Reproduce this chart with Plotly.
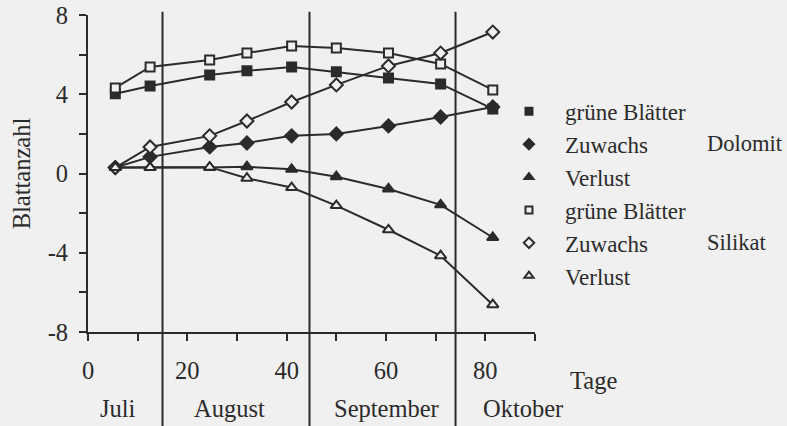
import plotly.graph_objects as go

# ---- data ----
days = [5.5, 12.5, 24.5, 32, 41, 50, 60.5, 71, 81.5]

dolomit_gruen = [4.02, 4.42, 4.97, 5.18, 5.38, 5.13, 4.82, 4.52, 3.26]
dolomit_zuwachs = [0.3, 0.84, 1.34, 1.54, 1.9, 2.0, 2.4, 2.85, 3.36]
dolomit_verlust = [0.3, 0.3, 0.3, 0.34, 0.21, -0.16, -0.78, -1.58, -3.23]

silikat_gruen = [4.32, 5.38, 5.73, 6.08, 6.44, 6.34, 6.08, 5.53, 4.22]
silikat_zuwachs = [0.3, 1.34, 1.9, 2.65, 3.61, 4.47, 5.43, 6.08, 7.14]
silikat_verlust = [0.3, 0.3, 0.32, -0.24, -0.71, -1.62, -2.84, -4.15, -6.62]

legend_names = ["grüne Blätter", "Zuwachs", "Verlust",
                "grüne Blätter", "Zuwachs", "Verlust"]
group_labels = ["Dolomit", "Silikat"]

month_names = ["Juli", "August", "September", "Oktober"]
month_label_pos = [6.0, 28.4, 60.2, 87.6]
month_bounds = [15, 44.6, 74]

x_tickvals = [0, 10, 20, 30, 40, 50, 60, 70, 80, 90]
x_ticktext = ["0", "", "20", "", "40", "", "60", "", "80", ""]
y_tickvals = [-8, -6, -4, -2, 0, 2, 4, 6, 8]
y_ticktext = ["-8", "", "-4", "", "0", "", "4", "", "8"]

# ---- style ----
BG = "#f0f0f0"
INK = "#2b2b2b"
FONT = "Liberation Serif"
FS = 24.5
LFS = 23
GFS = 22.5

series = [
    (dolomit_gruen, "square", True, 9),
    (dolomit_zuwachs, "diamond", True, 10),
    (dolomit_verlust, "triangle-up", True, 10),
    (silikat_gruen, "square", False, 9),
    (silikat_zuwachs, "diamond", False, 10),
    (silikat_verlust, "triangle-up", False, 10),
]

fig = go.Figure()

for vals, sym, filled, size in series:
    fig.add_trace(go.Scatter(
        x=days, y=vals, mode="lines+markers",
        line=dict(color=INK, width=2),
        marker=dict(symbol=sym, size=size,
                    color=INK if filled else BG,
                    line=dict(color=INK, width=2)),
        showlegend=False, hoverinfo="x+y",
    ))

for name, (vals, sym, filled, size) in zip(legend_names, series):
    fig.add_trace(go.Scatter(
        x=[None], y=[None], mode="markers", name=name,
        marker=dict(symbol=sym, size=size - 2,
                    color=INK if filled else BG,
                    line=dict(color=INK, width=2)),
        showlegend=True,
    ))

shapes = []
for b in month_bounds:
    shapes.append(dict(type="line", xref="x", yref="paper",
                       x0=b, x1=b, y0=-0.3, y1=1.01,
                       line=dict(color=INK, width=2)))

annotations = []
for name, pos in zip(month_names, month_label_pos):
    annotations.append(dict(x=pos, y=-0.24, xref="x", yref="paper",
                            text=name, showarrow=False,
                            font=dict(family=FONT, size=FS, color=INK),
                            xanchor="center", yanchor="middle"))
annotations.append(dict(x=1.13, y=-0.152, xref="paper", yref="paper",
                        text="Tage", showarrow=False,
                        font=dict(family=FONT, size=FS, color=INK),
                        xanchor="center", yanchor="middle"))
annotations.append(dict(x=-0.148, y=0.5, xref="paper", yref="paper",
                        text="Blattanzahl", showarrow=False, textangle=-90,
                        font=dict(family=FONT, size=FS, color=INK),
                        xanchor="center", yanchor="middle"))
for lbl, yy in zip(group_labels, [0.596, 0.281]):
    annotations.append(dict(x=1.381, y=yy, xref="paper", yref="paper",
                            text=lbl, showarrow=False,
                            font=dict(family=FONT, size=GFS, color=INK),
                            xanchor="left", yanchor="middle"))

fig.update_layout(
    width=787, height=426,
    margin=dict(l=88, r=252, t=15, b=94, autoexpand=False),
    paper_bgcolor=BG, plot_bgcolor=BG,
    font=dict(family=FONT, size=FS, color=INK),
    shapes=shapes, annotations=annotations,
    legend=dict(x=0.906, y=0.764, xanchor="left", yanchor="top",
                bgcolor="rgba(0,0,0,0)", borderwidth=0, itemwidth=62,
                font=dict(family=FONT, size=LFS, color=INK),
                tracegroupgap=0),
    xaxis=dict(range=[0, 90], tickvals=x_tickvals, ticktext=x_ticktext,
               showgrid=False, zeroline=False, showline=True,
               linecolor=INK, linewidth=2, ticks="outside", ticklen=7,
               tickwidth=2, tickcolor=INK, ticklabelstandoff=9,
               fixedrange=True),
    yaxis=dict(range=[-8, 8], tickvals=y_tickvals, ticktext=y_ticktext,
               showgrid=False, zeroline=False, showline=True,
               linecolor=INK, linewidth=2, ticks="outside", ticklen=7,
               tickwidth=2, tickcolor=INK, ticklabelstandoff=6,
               fixedrange=True),
)

fig.write_html("out.html", config={"displayModeBar": False},
               post_script="document.body.style.margin='0';")
